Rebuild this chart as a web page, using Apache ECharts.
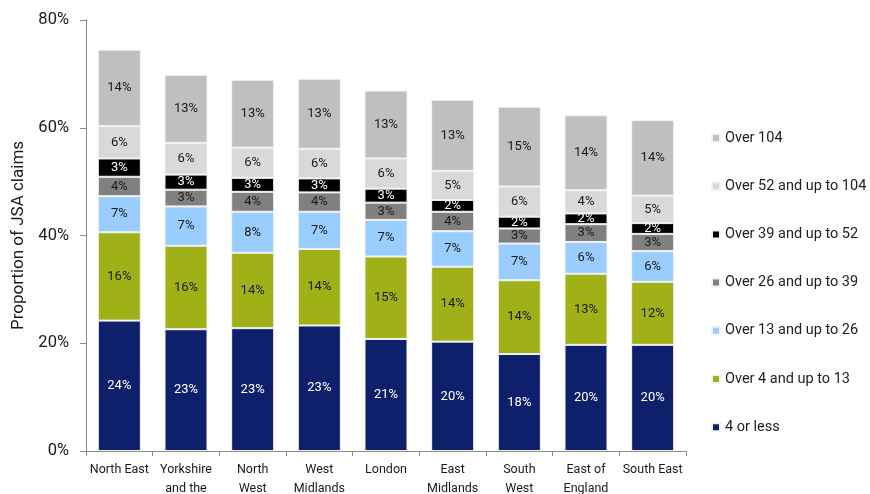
<!DOCTYPE html>
<html>
<head>
<meta charset="utf-8">
<script src="https://cdn.jsdelivr.net/npm/echarts@6/dist/echarts.min.js"></script>
<style>
  html, body { margin: 0; padding: 0; background: #ffffff; }
  #chart { width: 870px; height: 494px; }
</style>
</head>
<body>
<div id="chart"></div>
<script>
// JSA claimants by region, share of claims by claim duration (weeks)
const regions = ['North East', 'Yorkshire\nand the\nHumber', 'North\nWest', 'West\nMidlands', 'London',
                 'East\nMidlands', 'South\nWest', 'East of\nEngland', 'South East'];

const upTo4      = [24.2, 22.6, 22.8, 23.3, 20.8, 20.3, 18.0, 19.7, 19.7];
const over4to13  = [16.4, 15.5, 14.0, 14.2, 15.3, 13.9, 13.7, 13.2, 11.7];
const over13to26 = [ 6.7,  7.3,  7.6,  6.9,  6.8,  6.6,  6.8,  5.9,  5.7];
const over26to39 = [ 3.6,  3.1,  3.7,  3.6,  3.2,  3.6,  2.8,  3.3,  3.2];
const over39to52 = [ 3.4,  2.8,  2.6,  2.6,  2.6,  2.2,  2.2,  2.0,  2.0];
const over52to104= [ 6.0,  5.9,  5.6,  5.5,  5.6,  5.4,  5.6,  4.3,  5.1];
const over104    = [14.2, 12.6, 12.6, 13.0, 12.6, 13.2, 14.8, 13.9, 14.0];

const yTicks = { min: 0, max: 80, step: 20 };

const seriesDefs = [
  { name: '4 or less',             data: upTo4,       color: '#0e1f6c', text: '#ffffff' },
  { name: 'Over 4 and up to 13',   data: over4to13,   color: '#9fb116', text: '#1a1a1a' },
  { name: 'Over 13 and up to 26',  data: over13to26,  color: '#99ccff', text: '#1a1a1a' },
  { name: 'Over 26 and up to 39',  data: over26to39,  color: '#808080', text: '#1a1a1a' },
  { name: 'Over 39 and up to 52',  data: over39to52,  color: '#000000', text: '#ffffff' },
  { name: 'Over 52 and up to 104', data: over52to104, color: '#d9d9d9', text: '#1a1a1a' },
  { name: 'Over 104',              data: over104,     color: '#bfbfbf', text: '#1a1a1a' }
];

const FONT = 'Roboto, "Liberation Sans", sans-serif';

const chart = echarts.init(document.getElementById('chart'), null, { renderer: 'canvas' });

chart.setOption({
  animation: false,
  backgroundColor: '#ffffff',
  textStyle: { fontFamily: FONT },
  grid: { left: 86, right: 184, top: 20, bottom: 43, containLabel: false, outerBoundsMode: 'none' },
  legend: {
    orient: 'vertical',
    left: 711,
    top: 130,
    padding: 0,
    itemWidth: 8,
    itemHeight: 8,
    itemGap: 32.2,
    icon: 'rect',
    data: seriesDefs.map(s => s.name).reverse(),
    textStyle: { fontSize: 14.5, color: '#222222', lineHeight: 16, fontFamily: FONT }
  },
  xAxis: {
    type: 'category',
    data: regions,
    axisLine: { lineStyle: { color: '#8c8c8c', width: 1 } },
    axisTick: { show: true, length: 5, lineStyle: { color: '#8c8c8c' } },
    axisLabel: {
      interval: 0,
      fontSize: 12.5,
      lineHeight: 19,
      color: '#1a1a1a',
      margin: 9,
      fontFamily: FONT
    }
  },
  yAxis: {
    type: 'value',
    min: yTicks.min,
    max: yTicks.max,
    interval: yTicks.step,
    name: 'Proportion of JSA claims',
    nameLocation: 'middle',
    nameGap: 58,
    nameTextStyle: { fontSize: 17, color: '#1a1a1a', fontFamily: FONT },
    axisLine: { show: true, lineStyle: { color: '#8c8c8c', width: 1 } },
    axisTick: { show: true, length: 6, lineStyle: { color: '#8c8c8c' } },
    splitLine: { show: false },
    axisLabel: {
      formatter: '{value}%',
      fontSize: 16.5,
      color: '#1a1a1a',
      margin: 17,
      fontFamily: FONT
    }
  },
  series: seriesDefs.map(s => ({
    name: s.name,
    type: 'bar',
    stack: 'total',
    barWidth: 43,
    data: s.data,
    itemStyle: { color: s.color, borderColor: '#f2f2f2', borderWidth: 1 },
    label: {
      show: true,
      position: 'inside',
      formatter: p => Math.round(p.value) + '%',
      fontSize: 13,
      color: s.text,
      fontFamily: FONT
    },
    emphasis: { disabled: true }
  }))
});
</script>
</body>
</html>
